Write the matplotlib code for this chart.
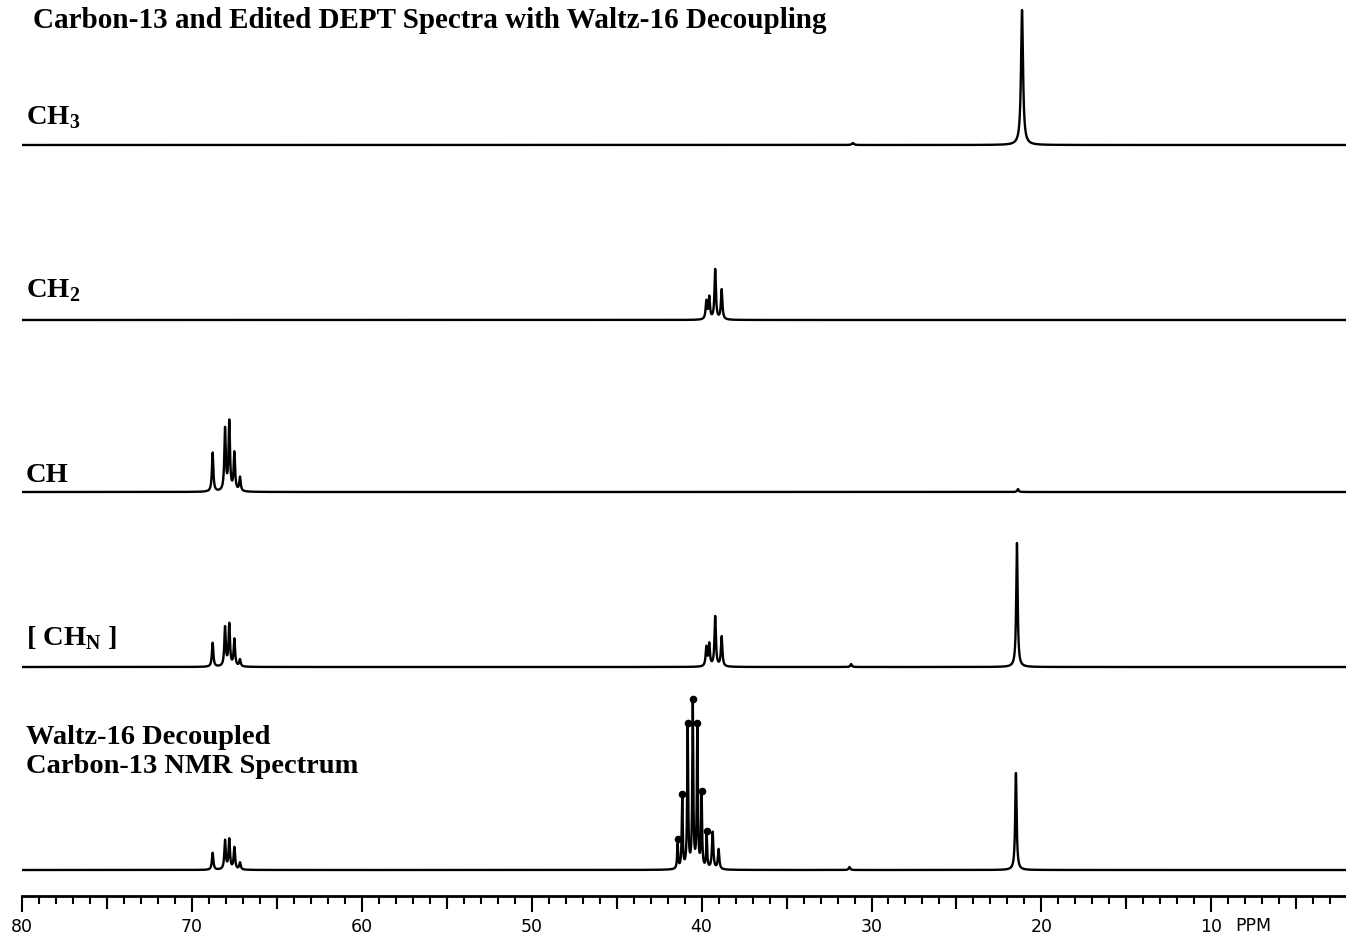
import numpy as np
import matplotlib.pyplot as plt
from matplotlib.ticker import MultipleLocator, FixedFormatter, FixedLocator

plt.rcParams["font.family"] = "Liberation Serif"
plt.rcParams["mathtext.fontset"] = "custom"
plt.rcParams["mathtext.rm"] = "Liberation Serif:bold"
plt.rcParams["mathtext.bf"] = "Liberation Serif:bold"

# Peak lists (ppm, height in pixels above baseline)
ch3_ppm = [21.14, 31.1]
ch3_height = [135, 2]

ch2_ppm = [39.72, 39.55, 39.20, 38.82]
ch2_height = [18, 22, 50, 30]

ch_ppm = [68.78, 68.05, 67.80, 67.50, 67.17, 21.38]
ch_height = [39, 62, 69, 38, 14, 3]

chn_ppm = [68.78, 68.05, 67.80, 67.50, 67.17, 39.72, 39.55, 39.20, 38.82, 31.2, 21.44]
chn_height = [24, 39, 42, 27, 7, 19, 22, 50, 30, 3, 124]

# solvent septet (marked with dots) + the other carbons
dmso_ppm = [41.41, 41.14, 40.82, 40.52, 40.25, 40.00, 39.70]
dmso_height = [25, 70, 141, 165, 141, 73, 33]
c13_ppm = [68.78, 68.05, 67.80, 67.50, 67.17, 39.35, 39.00, 31.3, 21.50]
c13_height = [17, 29, 30, 22, 7, 37, 20, 3, 97]

labels = ["CH$_\\mathrm{3}$", "CH$_\\mathrm{2}$", "CH", "[ CH$_\\mathrm{N}$ ]",
          "Waltz-16 Decoupled\nCarbon-13 NMR Spectrum"]
title = "Carbon-13 and Edited DEPT Spectra with Waltz-16 Decoupling"
tick_values = [80, 70, 60, 50, 40, 30, 20, 10]
tick_labels = ["80", "70", "60", "50", "40", "30", "20", "10"]

W, H = 1346, 933
ppm = np.linspace(80, 1.5, 40000)


def spectrum(centers, heights, fwhm):
    y = np.zeros_like(ppm)
    g = fwhm / 2
    for c, h in zip(centers, heights):
        y += h / (1 + ((ppm - c) / g) ** 2)
    return y


traces = [
    spectrum(ch3_ppm, ch3_height, 0.14),
    spectrum(ch2_ppm, ch2_height, 0.1),
    spectrum(ch_ppm, ch_height, 0.1),
    spectrum(chn_ppm, chn_height, 0.1),
    spectrum(c13_ppm, c13_height, 0.1) + spectrum(dmso_ppm, dmso_height, 0.07),
]
baselines = [751, 576, 404, 229, 26]
label_y = [124, 297, 482, 645, 773]

fig = plt.figure(figsize=(W / 100, H / 100), dpi=100)
ax = fig.add_axes([22 / W, 37 / H, 1324 / W, 896 / H])
ax.set_xlim(80, 80 - 1324 / 16.99)
ax.set_ylim(0, 896)

for tr, base in zip(traces, baselines):
    ax.plot(ppm, tr + base, color="black", lw=1.7)

# dots over the solvent septet
ax.scatter(dmso_ppm, np.array(dmso_height) + baselines[4] + 6, s=20, color="black", zorder=3)

for s in ["top", "left", "right"]:
    ax.spines[s].set_visible(False)
ax.spines["bottom"].set_linewidth(2)
ax.yaxis.set_visible(False)

ax.xaxis.set_major_locator(FixedLocator(tick_values))
ax.xaxis.set_major_formatter(FixedFormatter(tick_labels))
ax.xaxis.set_minor_locator(MultipleLocator(1))
ax.tick_params(axis="x", which="major", length=11.5, width=1.5, pad=4,
               labelsize=12.5, labelfontfamily="DejaVu Sans")
ax.tick_params(axis="x", which="minor", length=6, width=1.5)

sec = ax.secondary_xaxis("bottom")
sec.set_xticks(np.arange(75, 0, -10))
sec.tick_params(length=9.5, width=1.5, labelbottom=False)
sec.spines["bottom"].set_visible(False)

fig.text(1235 / W, 1 - 931 / H, "PPM", fontsize=12.5, family="DejaVu Sans",
         va="baseline", ha="left")

fig.text(33 / W, 1 - 28 / H, title, fontsize=21, fontweight="bold", va="baseline")
for lab, y in zip(labels, label_y):
    fig.text(26 / W, 1 - y / H, lab, fontsize=20.5, fontweight="bold",
             va="baseline", linespacing=1.22)

fig.savefig("out.png", dpi=100)
